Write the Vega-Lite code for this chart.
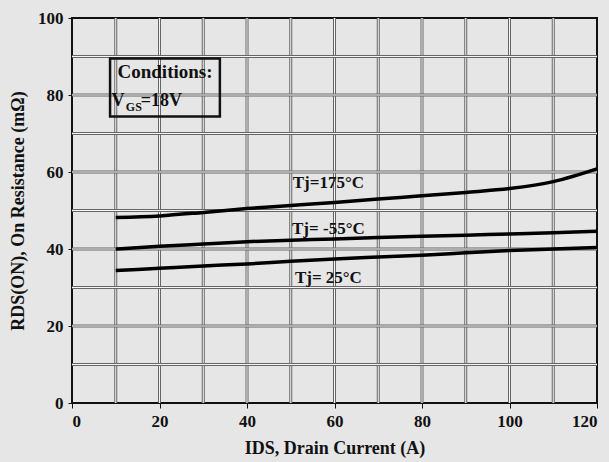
{
  "$schema": "https://vega.github.io/schema/vega-lite/v6.json",
  "autosize": {"type": "none"},
  "padding": {"left": 72, "top": 18, "right": 12, "bottom": 59},
  "width": 525,
  "height": 385,
  "background": "#e6e6e6",
  "config": {
    "view": {"stroke": "#111111", "strokeWidth": 2, "fill": "#e6e6e6"},
    "font": "Liberation Serif",
    "axis": {"labelFont": "Liberation Serif", "titleFont": "Liberation Serif", "labelFontWeight": "bold", "titleFontWeight": "bold", "labelColor": "#111", "titleColor": "#111", "labelFontSize": 17, "titleFontSize": 18, "domainColor": "#111", "tickColor": "#111", "grid": false}
  },
  "datasets": {
    "curves": [
      {"Tj": "175", "I": 10, "R": 48.2}, {"Tj": "175", "I": 20, "R": 48.6}, {"Tj": "175", "I": 30, "R": 49.5}, {"Tj": "175", "I": 40, "R": 50.5}, {"Tj": "175", "I": 50, "R": 51.3}, {"Tj": "175", "I": 60, "R": 52.1}, {"Tj": "175", "I": 70, "R": 53.0}, {"Tj": "175", "I": 80, "R": 53.8}, {"Tj": "175", "I": 90, "R": 54.7}, {"Tj": "175", "I": 100, "R": 55.7}, {"Tj": "175", "I": 110, "R": 57.5}, {"Tj": "175", "I": 120, "R": 60.8},
      {"Tj": "-55", "I": 10, "R": 40.0}, {"Tj": "-55", "I": 20, "R": 40.7}, {"Tj": "-55", "I": 30, "R": 41.3}, {"Tj": "-55", "I": 40, "R": 41.9}, {"Tj": "-55", "I": 50, "R": 42.3}, {"Tj": "-55", "I": 60, "R": 42.6}, {"Tj": "-55", "I": 70, "R": 43.0}, {"Tj": "-55", "I": 80, "R": 43.3}, {"Tj": "-55", "I": 90, "R": 43.6}, {"Tj": "-55", "I": 100, "R": 43.9}, {"Tj": "-55", "I": 110, "R": 44.2}, {"Tj": "-55", "I": 120, "R": 44.6},
      {"Tj": "25", "I": 10, "R": 34.4}, {"Tj": "25", "I": 20, "R": 35.0}, {"Tj": "25", "I": 30, "R": 35.6}, {"Tj": "25", "I": 40, "R": 36.1}, {"Tj": "25", "I": 50, "R": 36.8}, {"Tj": "25", "I": 60, "R": 37.4}, {"Tj": "25", "I": 70, "R": 37.9}, {"Tj": "25", "I": 80, "R": 38.4}, {"Tj": "25", "I": 90, "R": 39.0}, {"Tj": "25", "I": 100, "R": 39.6}, {"Tj": "25", "I": 110, "R": 40.0}, {"Tj": "25", "I": 120, "R": 40.4}
    ],
    "vgrid": [{"v": 10}, {"v": 20}, {"v": 30}, {"v": 40}, {"v": 50}, {"v": 60}, {"v": 70}, {"v": 80}, {"v": 90}, {"v": 100}, {"v": 110}],
    "hgrid": [{"v": 10}, {"v": 20}, {"v": 30}, {"v": 40}, {"v": 50}, {"v": 60}, {"v": 70}, {"v": 80}, {"v": 90}],
    "labels": [
      {"text": "Tj=175°C", "I": 58.6, "R": 57.1},
      {"text": "Tj= -55°C", "I": 58.6, "R": 45.2},
      {"text": "Tj= 25°C", "I": 58.6, "R": 32.4}
    ],
    "box": [{"x1": 8.7, "x2": 33.8, "y1": 74.4, "y2": 89.5}],
    "boxtext": [
      {"text": "Conditions:", "I": 10.4, "R": 85.9, "size": 19},
      {"text": "V", "I": 9.0, "R": 78.4, "size": 18},
      {"text": "GS", "I": 12.3, "R": 76.9, "size": 12},
      {"text": "=18V", "I": 15.7, "R": 78.4, "size": 18}
    ]
  },
  "layer": [
    {
      "data": {"name": "vgrid"},
      "mark": {"type": "rule", "color": "#666666", "strokeWidth": 3},
      "encoding": {"x": {"field": "v", "type": "quantitative", "scale": {"domain": [0, 120]}, "axis": {"values": [0, 20, 40, 60, 80, 100, 120], "title": "IDS, Drain Current (A)", "titlePadding": 10, "labelPadding": 5, "tickSize": 5}}}
    },
    {
      "data": {"name": "vgrid"},
      "mark": {"type": "rule", "color": "#f4f4f4", "strokeWidth": 1},
      "encoding": {"x": {"field": "v", "type": "quantitative"}}
    },
    {
      "data": {"name": "hgrid"},
      "mark": {"type": "rule", "color": "#666666", "strokeWidth": 3},
      "encoding": {"y": {"field": "v", "type": "quantitative", "scale": {"domain": [0, 100]}, "axis": {"values": [0, 20, 40, 60, 80, 100], "title": "RDS(ON), On Resistance (mΩ)", "titlePadding": 10, "labelPadding": 5, "tickSize": 4}}}
    },
    {
      "data": {"name": "hgrid"},
      "mark": {"type": "rule", "color": "#f4f4f4", "strokeWidth": 1},
      "encoding": {"y": {"field": "v", "type": "quantitative"}}
    },
    {
      "data": {"name": "curves"},
      "mark": {"type": "line", "color": "#000000", "strokeWidth": 3.5, "interpolate": "monotone"},
      "encoding": {
        "x": {"field": "I", "type": "quantitative"},
        "y": {"field": "R", "type": "quantitative"},
        "detail": {"field": "Tj", "type": "nominal"}
      }
    },
    {
      "data": {"name": "labels"},
      "mark": {"type": "text", "font": "Liberation Serif", "fontWeight": "bold", "fontSize": 17, "color": "#111", "align": "center", "baseline": "middle"},
      "encoding": {
        "x": {"field": "I", "type": "quantitative"},
        "y": {"field": "R", "type": "quantitative"},
        "text": {"field": "text"}
      }
    },
    {
      "data": {"name": "box"},
      "mark": {"type": "rect", "fill": null, "fillOpacity": 0, "stroke": "#111", "strokeWidth": 2.5},
      "encoding": {
        "x": {"field": "x1", "type": "quantitative"},
        "x2": {"field": "x2"},
        "y": {"field": "y1", "type": "quantitative"},
        "y2": {"field": "y2"}
      }
    },
    {
      "data": {"name": "boxtext"},
      "mark": {"type": "text", "font": "Liberation Serif", "fontWeight": "bold", "color": "#111", "align": "left", "baseline": "middle"},
      "encoding": {
        "x": {"field": "I", "type": "quantitative"},
        "y": {"field": "R", "type": "quantitative"},
        "text": {"field": "text"},
        "size": {"field": "size", "type": "quantitative", "scale": null, "legend": null}
      }
    }
  ]
}
